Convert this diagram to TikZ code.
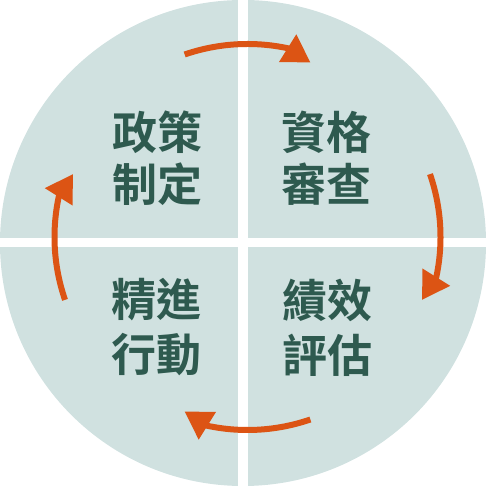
\documentclass[tikz,border=0pt]{standalone}
\usepackage{fontspec}
\newfontfamily\cjk{Noto Sans CJK TC}[BoldFont={* Bold}]
\usetikzlibrary{arrows.meta,calc}
\definecolor{disc}{HTML}{D0E1E0}
\definecolor{ink}{HTML}{2E5A4F}
\definecolor{arr}{HTML}{DC5414}
\tikzset{
  lbl/.style={font=\cjk\bfseries\fontsize{45}{45}\selectfont, text=ink, inner sep=0pt},
  cyc/.style={draw=arr, line width=6pt, -{Triangle[length=27pt,width=31pt]}}
}
\begin{document}
\begin{tikzpicture}[x=1pt,y=1pt]
\useasboundingbox (0,0) rectangle (486,486);
\fill[disc] (243,243) circle (243);
\fill[white] (238,0) rectangle (247.5,486);
\fill[white] (0,238.5) rectangle (486,248);
\coordinate (c) at (247.5,249);
\node[lbl] (t1) at (157,354) {政策};
\node[lbl] (t2) at (157,302) {制定};
\node[lbl] (t3) at (326.5,354) {資格};
\node[lbl] (t4) at (326.5,302) {審查};
\node[lbl] (t5) at (156.5,186) {精進};
\node[lbl] (t6) at (156.5,131) {行動};
\node[lbl] (t7) at (327.5,186) {績效};
\node[lbl] (t8) at (327.5,131) {評估};
\foreach \a in {0,90,180,270}{
  \draw[cyc] ($(c)+(109-\a:193)$) arc[start angle=109-\a, end angle=78-\a, radius=193] -- ++(-32-\a:27);
}
\end{tikzpicture}
\end{document}
